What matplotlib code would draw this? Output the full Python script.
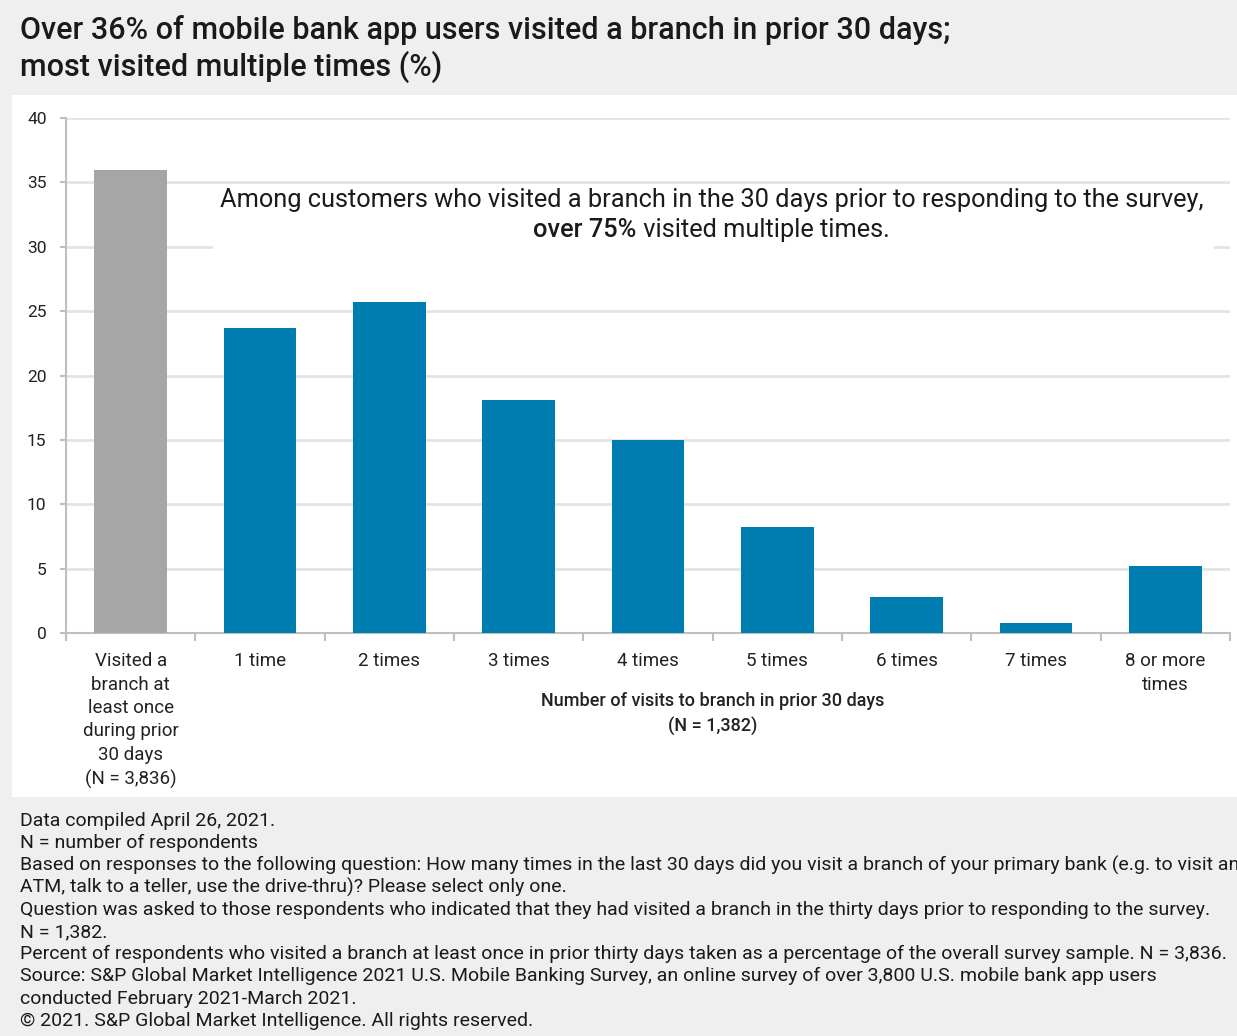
import matplotlib
matplotlib.use("Agg")
import matplotlib.pyplot as plt
from matplotlib.patches import Rectangle
from matplotlib.transforms import blended_transform_factory

plt.rcParams['font.family'] = ['Roboto', 'DejaVu Sans']

# Share of respondents by number of branch visits in prior 30 days (%)
categories = [
    "Visited a\nbranch at\nleast once\nduring prior\n30 days\n(N = 3,836)",
    "1 time", "2 times", "3 times", "4 times", "5 times",
    "6 times", "7 times", "8 or more\ntimes",
]
values = [36.0, 23.7, 25.7, 18.1, 15.0, 8.2, 2.8, 0.8, 5.2]
y_ticks = [0, 5, 10, 15, 20, 25, 30, 35, 40]

title = ("Over 36% of mobile bank app users visited a branch in prior 30 days;\n"
         "most visited multiple times (%)")
note_line1 = ("Among customers who visited a branch in the 30 days prior to "
              "responding to the survey,")
note_bold = "over 75%"
note_rest = " visited multiple times."
xlabel = "Number of visits to branch in prior 30 days\n(N = 1,382)"
footer = [
    "Data compiled April 26, 2021.",
    "N = number of respondents",
    "Based on responses to the following question: How many times in the last 30 days did you visit a branch of your primary bank (e.g. to visit an",
    "ATM, talk to a teller, use the drive-thru)? Please select only one.",
    "Question was asked to those respondents who indicated that they had visited a branch in the thirty days prior to responding to the survey.",
    "N = 1,382.",
    "Percent of respondents who visited a branch at least once in prior thirty days taken as a percentage of the overall survey sample. N = 3,836.",
    "Source: S&P Global Market Intelligence 2021 U.S. Mobile Banking Survey, an online survey of over 3,800 U.S. mobile bank app users",
    "conducted February 2021-March 2021.",
    "\u00a9 2021. S&P Global Market Intelligence. All rights reserved.",
]

BLUE = "#007DB0"
GREY = "#A6A6A6"
W, H = 1237, 1036

fig = plt.figure(figsize=(W / 100, H / 100), dpi=100, facecolor="#EFEFEF")

# white chart panel behind the axes
fig.patches.append(Rectangle((12 / W, 1 - 797 / H), 1 - 12 / W, (797 - 95) / H,
                             transform=fig.transFigure, facecolor="white",
                             edgecolor="none", zorder=-10))

ax = fig.add_axes([66 / W, 1 - 633 / H, (1230 - 66) / W, (633 - 118) / H])
ax.set_facecolor("none")

x = list(range(len(categories)))
colors = [GREY] + [BLUE] * (len(categories) - 1)
ax.bar(x, values, width=0.56, color=colors, zorder=3)

ax.set_xlim(-0.5, len(categories) - 0.5)
ax.set_ylim(0, 40)
ax.set_yticks(y_ticks)
ax.set_yticklabels([str(t) for t in y_ticks], fontsize=12.5, color="#222222")
ax.yaxis.grid(True, color="#E4E4E4", linewidth=2)
ax.set_axisbelow(True)

ax.set_xticks(x)
ax.set_xticklabels(categories, fontsize=13.5, color="#222222", linespacing=1.38,
                   va="top")
ax.set_xticks([i - 0.5 for i in range(len(categories) + 1)], minor=True)
ax.tick_params(axis="x", which="major", length=0, pad=14)
ax.tick_params(axis="x", which="minor", length=6, color="#BFBFBF", width=1.5,
               direction="out")
ax.tick_params(axis="y", length=4, color="#BFBFBF", width=1.5, pad=10)

for side in ("top", "right"):
    ax.spines[side].set_visible(False)
for side in ("left", "bottom"):
    ax.spines[side].set_color("#BFBFBF")
    ax.spines[side].set_linewidth(1.5)

# callout with white backing over the gridlines
ax.add_patch(Rectangle((0.64, 29.6), 7.74, 5.1, facecolor="white",
                       edgecolor="none", zorder=2))
ax.text(4.49, 33.6, note_line1, ha="center", va="center", fontsize=18.3,
        color="#1a1a1a", zorder=4)

# second line: bold lead-in followed by regular text, centred as one line
t_bold = ax.text(0, 31.3, note_bold, ha="left", va="center", fontsize=18.3,
                 color="#1a1a1a", weight="medium", zorder=4)
t_rest = ax.annotate(note_rest, xy=(1, 0.5), xycoords=t_bold, ha="left",
                     va="center", fontsize=18.3, color="#1a1a1a", zorder=4)
renderer = fig.canvas.get_renderer()
inv = ax.transData.inverted()
wb = t_bold.get_window_extent(renderer)
wr = t_rest.get_window_extent(renderer)
total = inv.transform((wr.x1, 0))[0] - inv.transform((wb.x0, 0))[0]
t_bold.set_x(4.49 - total / 2)

trans = blended_transform_factory(ax.transData, fig.transFigure)
ax.text(4.5, 1 - 714 / H, xlabel, transform=trans, ha="center", va="center",
        fontsize=13, weight="medium", color="#222222", linespacing=1.45)

fig.text(20 / W, 1 - 49 / H, title, ha="left", va="center", fontsize=22,
         weight="medium", color="#1a1a1a", linespacing=1.2)

for i, line in enumerate(footer):
    fig.text(20 / W, 1 - (821 + i * 22.2) / H, line, ha="left", va="center",
             fontsize=14, color="#1a1a1a")

fig.savefig("out.png", dpi=100, facecolor=fig.get_facecolor())
